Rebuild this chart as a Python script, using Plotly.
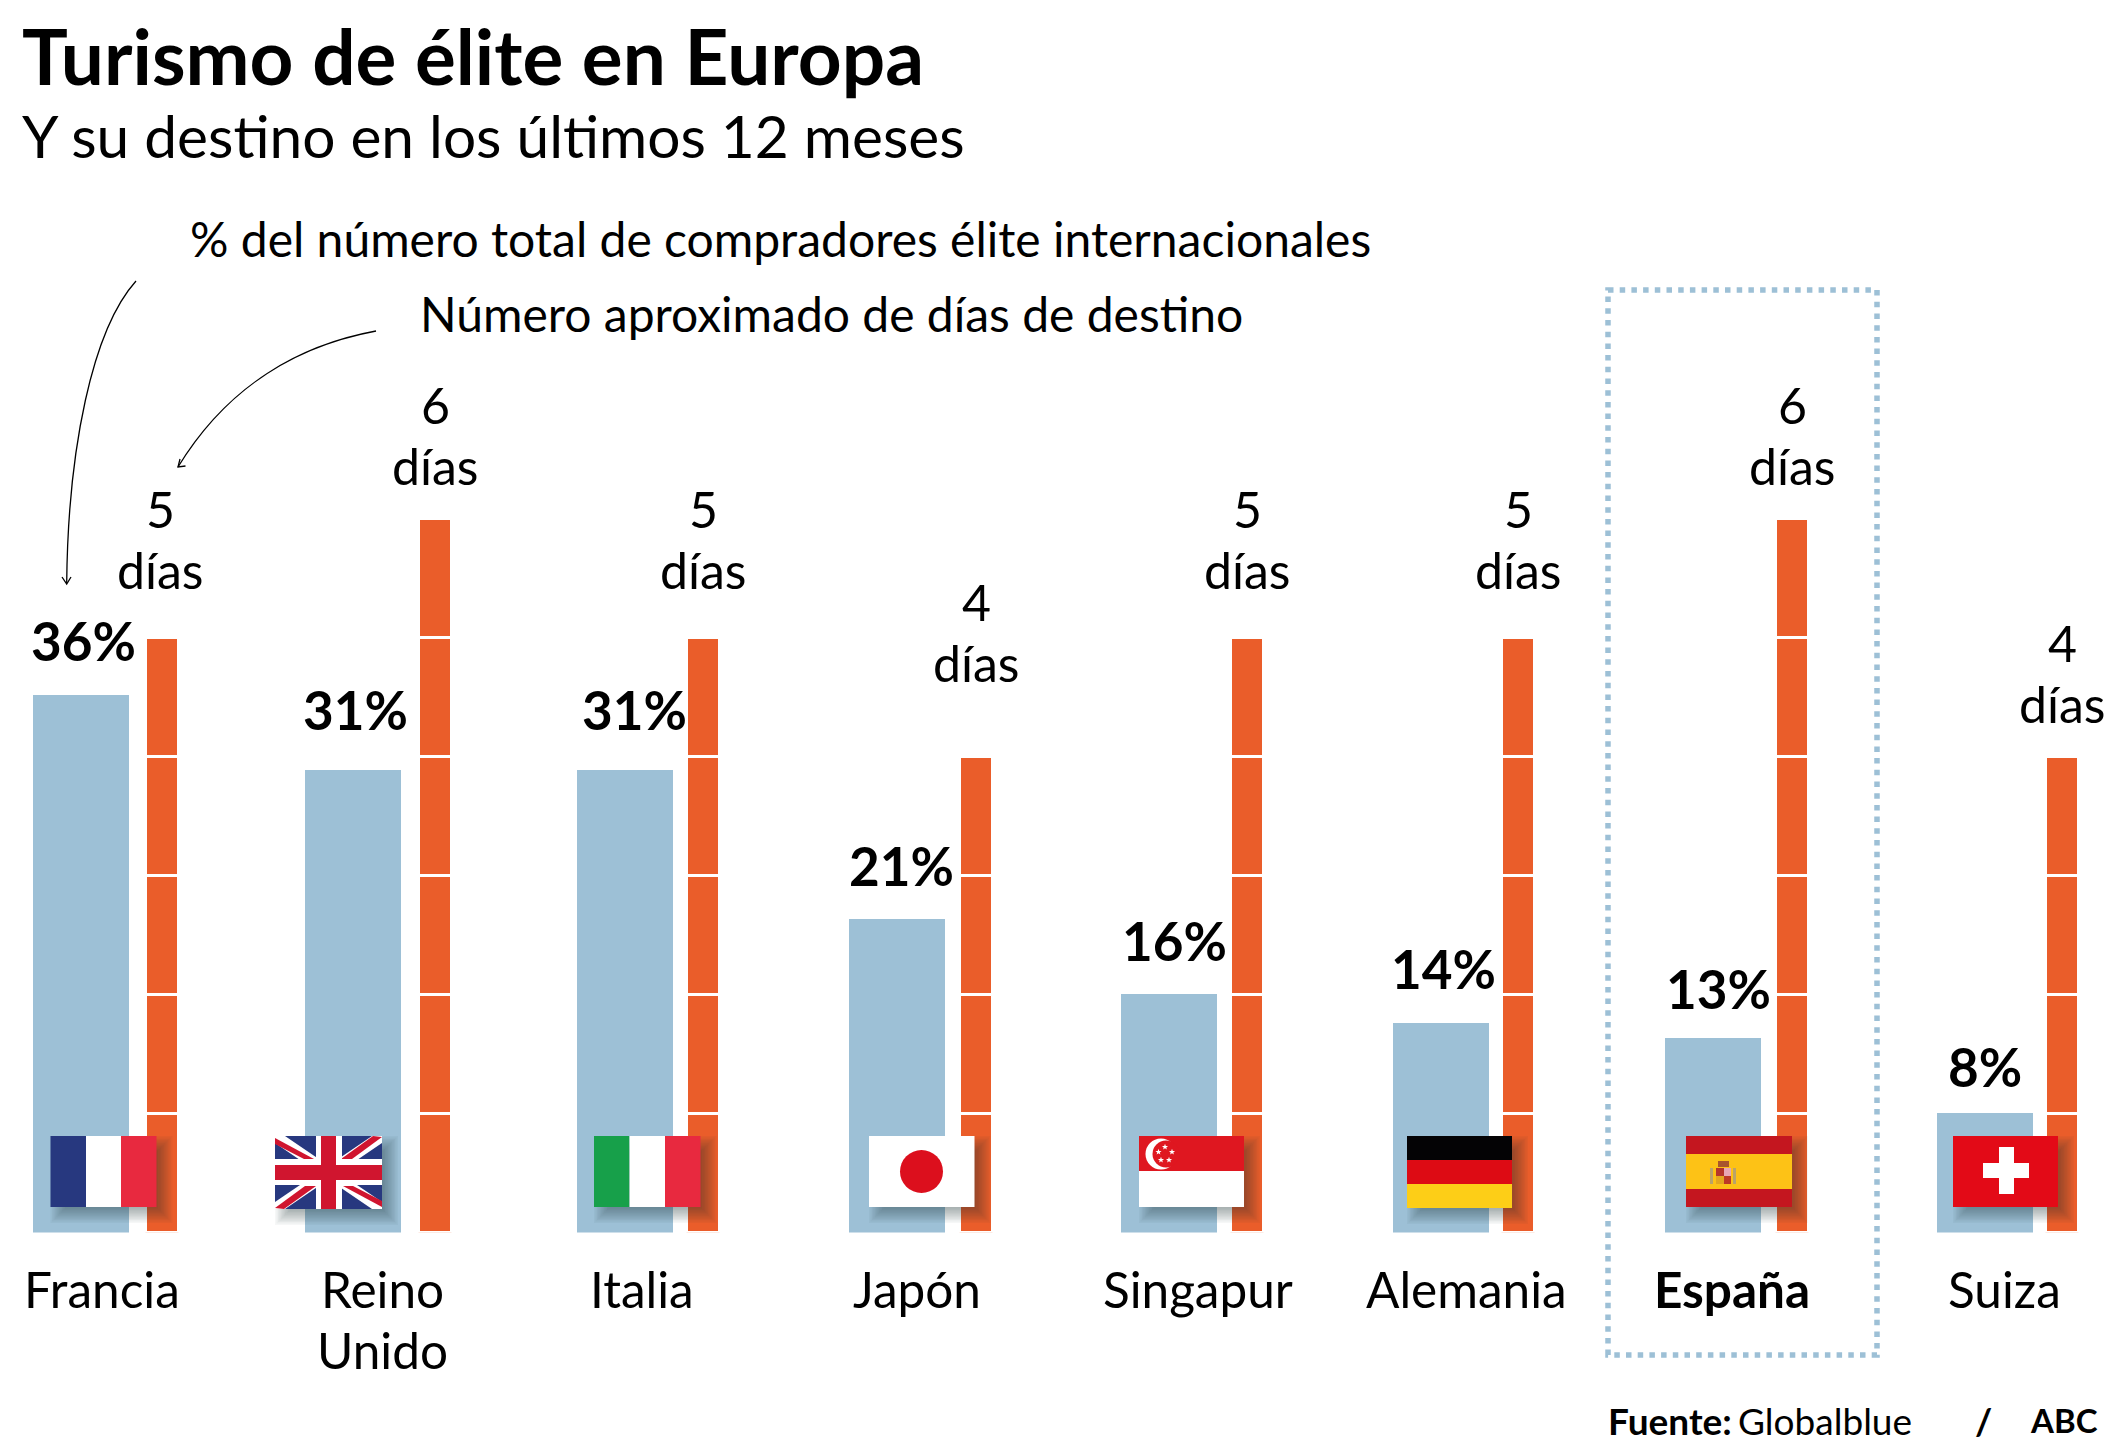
import math
import plotly.graph_objects as go

paises = ["Francia", "Reino<br>Unido", "Italia", "Japón", "Singapur", "Alemania", "<b>España</b>", "Suiza"]
compradores = [36, 31, 31, 21, 16, 14, 13, 8]
dias = [5, 6, 5, 4, 5, 5, 6, 4]
etiquetas_pct = ["36%", "31%", "31%", "21%", "16%", "14%", "13%", "8%"]

W, H = 2125, 1455
FONT = "Lato"
BLUE, ORANGE = "#9dc0d6", "#ea5d2a"
BASE_PX = 1232.5
PX_X = 272.0      # pixels per category
X0_PX = 81.0      # pixel centre of the first category
ORANGE_SHIFT = [81, 82, 78, 79, 78, 77, 79, 77]
PCT_XSHIFT = [2, 2, 9, 4, 5, 2, 5, 0]
PCT_YSHIFT = [55, 60, 60, 53, 53, 55, 50, 47]
DIA_YSHIFT = [51, 36, 51, 77, 51, 51, 36, 36]
LABEL_CX = [102, 382, 642, 917, 1198, 1466, 1732, 2004]


def fx(p):
    return p / W


def fy(p):
    return 1 - p / H


idx = list(range(len(paises)))
fig = go.Figure()
fig.add_trace(go.Bar(x=idx, y=compradores, width=96 / PX_X, marker=dict(color=BLUE, line=dict(width=0)),
                     yaxis="y", hoverinfo="skip"))

seg_x, seg_base = [], []
for i, d in enumerate(dias):
    for k in range(d):
        seg_x.append(i + ORANGE_SHIFT[i] / PX_X)
        seg_base.append(k)
fig.add_trace(go.Bar(x=seg_x, y=[1] * len(seg_x), base=seg_base, width=33 / PX_X,
                     marker=dict(color=ORANGE, line=dict(color="white", width=3)),
                     yaxis="y2", hoverinfo="skip"))

shapes = []
ann = []


def rect(x0, y0, x1, y1, color, opacity=None):
    s = dict(type="rect", xref="paper", yref="paper", x0=fx(x0), x1=fx(x1), y0=fy(y0), y1=fy(y1),
             fillcolor=color, line=dict(width=0))
    if opacity is not None:
        s["opacity"] = opacity
    shapes.append(s)


def poly(pts, color):
    d = "M " + " L ".join(f"{fx(a):.5f} {fy(b):.5f}" for a, b in pts) + " Z"
    shapes.append(dict(type="path", xref="paper", yref="paper", path=d, fillcolor=color, line=dict(width=0)))


def curve(p0, c1, c2, p1, width=1.3):
    d = (f"M {fx(p0[0]):.5f} {fy(p0[1]):.5f} C {fx(c1[0]):.5f} {fy(c1[1]):.5f} "
         f"{fx(c2[0]):.5f} {fy(c2[1]):.5f} {fx(p1[0]):.5f} {fy(p1[1]):.5f}")
    shapes.append(dict(type="path", xref="paper", yref="paper", path=d, line=dict(color="black", width=width),
                       fillcolor="rgba(0,0,0,0)"))


def polyline(pts, width=1.3):
    d = "M " + " L ".join(f"{fx(a):.5f} {fy(b):.5f}" for a, b in pts)
    shapes.append(dict(type="path", xref="paper", yref="paper", path=d, line=dict(color="black", width=width),
                       fillcolor="rgba(0,0,0,0)"))


def shadow(x0, y0, x1, y1, d=8.0, r=8.0, n=12):
    # soft drop shadow built from nested translucent rectangles
    for k in range(n):
        e = r * (1 - 2 * k / (n - 1))
        rect(x0 + d - e, y0 + d - e, x1 + d + e, y1 + d + e, "#1a2a33", 0.04)


def star(cx, cy, r, color="white"):
    pts = []
    for j in range(10):
        rr = r if j % 2 == 0 else r * 0.42
        a = -math.pi / 2 + j * math.pi / 5
        pts.append((cx + rr * math.cos(a), cy + rr * math.sin(a)))
    poly(pts, color)


def circle(cx, cy, rx, ry, color):
    shapes.append(dict(type="circle", xref="paper", yref="paper", x0=fx(cx - rx), x1=fx(cx + rx),
                       y0=fy(cy + ry), y1=fy(cy - ry), fillcolor=color, line=dict(width=0)))


T, B = 1136, 1207
# France
shadow(50.5, T, 156.5, B)
rect(50.5, T, 86, B, "#27387f"); rect(86, T, 121, B, "white"); rect(121, T, 156.5, B, "#e8293f")
# UK
x0, x1, y0, y1 = 275, 382, 1136, 1209
shadow(x0, y0, x1, y1)
rect(x0, y0, x1, y1, "#27387f")
a, b = 10, 7
poly([(x0, y0), (x0 + a, y0), (x1, y1 - b), (x1, y1), (x1 - a, y1), (x0, y0 + b)], "white")
poly([(x1, y0), (x1, y0 + b), (x0 + a, y1), (x0, y1), (x0, y1 - b), (x1 - a, y0)], "white")
c = "#d0152f"
poly([(x0, y0 + 2), (x0, y0 + 8), (x0 + 29, 1159), (x0 + 39, 1159)], c)
poly([(x1, y0 + 1), (x1 - 9, y0), (x1 - 41, 1159), (x1 - 30, 1159)], c)
poly([(x0, y1 - 1), (x0 + 9, y1), (x0 + 41, 1186), (x0 + 30, 1186)], c)
poly([(x1, y1 - 2), (x1, y1 - 8), (x1 - 29, 1186), (x1 - 39, 1186)], c)
rect(316, y0, 342, y1, "white"); rect(x0, 1159, x1, 1185, "white")
rect(321, y0, 336, y1, c); rect(x0, 1165, x1, 1180, c)
# Italy
shadow(594, T, 700.5, B)
rect(594, T, 629.5, B, "#17a04a"); rect(629.5, T, 665, B, "white"); rect(665, T, 700.5, B, "#e8293f")
# Japan
shadow(869, T, 974.5, B)
rect(869, T, 974.5, B, "white")
circle(921.5, 1171.5, 21.5, 21.5, "#dc0f1d")
# Singapore
x0, x1 = 1139, 1244
shadow(x0, T, x1, B)
rect(x0, T, x1, B, "white"); rect(x0, T, x1, 1171, "#df1720")
circle(1161, 1154, 15.5, 15.5, "white"); circle(1166, 1154, 13.5, 13.5, "#df1720")
for sx, sy in [(1165, 1147), (1158.5, 1152), (1172, 1152), (1161, 1160), (1169, 1160)]:
    star(sx, sy, 3.2)
# Germany
x0, x1 = 1407, 1512
shadow(x0, T, x1, 1208)
rect(x0, T, x1, 1160, "#040305"); rect(x0, 1160, x1, 1184, "#dd0b14"); rect(x0, 1184, x1, 1208, "#fdce17")
# Spain
x0, x1 = 1686, 1792
shadow(x0, T, x1, B)
rect(x0, T, x1, B, "#c4161f"); rect(x0, 1154, x1, 1189, "#fdc216")
rect(1718, 1161, 1729, 1167, "#a8552d")
rect(1716, 1168, 1724, 1176, "#b5352b"); rect(1724, 1168, 1731, 1176, "#e8a7b5")
rect(1716, 1176, 1724, 1184, "#e3a71f"); rect(1724, 1176, 1731, 1184, "#bd3a26")
rect(1710, 1168, 1713, 1184, "#b9a36a"); rect(1733, 1168, 1736, 1184, "#b9a36a")
# Switzerland
x0, x1 = 1953, 2058
shadow(x0, T, x1, B)
rect(x0, T, x1, B, "#e30a17")
rect(1999, 1147, 2014, 1194, "white"); rect(1983, 1163, 2029, 1178, "white")

# Highlight box
shapes.append(dict(type="rect", xref="paper", yref="paper", x0=fx(1608), x1=fx(1877), y0=fy(290), y1=fy(1355),
                   line=dict(color=BLUE, width=5.5, dash="5.5px 6.2px"), fillcolor="rgba(0,0,0,0)"))

# Curved pointers
curve((136, 281), (92, 330), (68, 450), (66.7, 583))
polyline([(62, 577), (66.7, 584), (71, 577)])
curve((376, 331), (300, 345), (228, 385), (178, 467))
polyline([(180, 459), (178, 467), (185.5, 466)])


def text(s, x, y, size, anchor="left", color="black"):
    ann.append(dict(text=s, xref="paper", yref="paper", x=fx(x), y=fy(y), xanchor=anchor, yanchor="middle",
                    showarrow=False, font=dict(family=FONT, size=size, color=color), align="center"))


text("<b>Turismo de élite en Europa</b>", 20, 55, 76.5)
text("Y su destino en los últimos 12 meses", 20, 135, 58.6)
text("% del número total de compradores élite internacionales", 188, 239, 48)
text("Número aproximado de días de destino", 418, 313, 48)

for i, lab in enumerate(paises):
    if "<br>" in lab:
        top, bot = lab.split("<br>")
        text(top, LABEL_CX[i], 1289, 49.5, "center")
        text(bot, LABEL_CX[i], 1350, 49.5, "center")
    else:
        text(lab, LABEL_CX[i], 1289, 49.5, "center")

for i in idx:
    ann.append(dict(text=f"<b>{etiquetas_pct[i]}</b>", x=i, y=compradores[i], xref="x", yref="y", xanchor="center",
                    yanchor="middle", xshift=PCT_XSHIFT[i], yshift=PCT_YSHIFT[i], showarrow=False,
                    font=dict(family=FONT, size=53, color="black")))
    cx = i + ORANGE_SHIFT[i] / PX_X
    ann.append(dict(text="días", x=cx, y=dias[i], xref="x", yref="y2", xanchor="center", yanchor="middle",
                    xshift=-2 if i == 0 else 0,
                    yshift=DIA_YSHIFT[i] + 17, showarrow=False, font=dict(family=FONT, size=50, color="black")))
    ann.append(dict(text=str(dias[i]), x=cx, y=dias[i], xref="x", yref="y2", xanchor="center", yanchor="middle",
                    xshift=-2 if i == 0 else 0,
                    yshift=DIA_YSHIFT[i] + 78, showarrow=False, font=dict(family=FONT, size=50, color="black")))

text("<b>Fuente:</b>", 1606, 1420, 37)
text("Globalblue", 1736, 1420, 37)
text("<b>/</b>", 1983, 1420, 37, "center")
text("<b>ABC</b>", 2028, 1420, 33)

fig.update_layout(
    width=W, height=H, autosize=False, margin=dict(l=0, r=0, t=0, b=0), showlegend=False,
    paper_bgcolor="white", plot_bgcolor="white", barmode="overlay", bargap=0,
    xaxis=dict(range=[-X0_PX / PX_X, (W - X0_PX) / PX_X], domain=[0, 1], visible=False, fixedrange=True),
    yaxis=dict(range=[0, BASE_PX / 14.93], domain=[1 - BASE_PX / H, 1], visible=False, fixedrange=True),
    yaxis2=dict(range=[0, BASE_PX / 118.9], domain=[1 - BASE_PX / H, 1], overlaying="y", visible=False, fixedrange=True),
    shapes=shapes, annotations=ann,
)
fig.write_html("out.html", post_script="document.body.style.margin='0';document.body.style.overflow='hidden';",
               config={"displayModeBar": False})
